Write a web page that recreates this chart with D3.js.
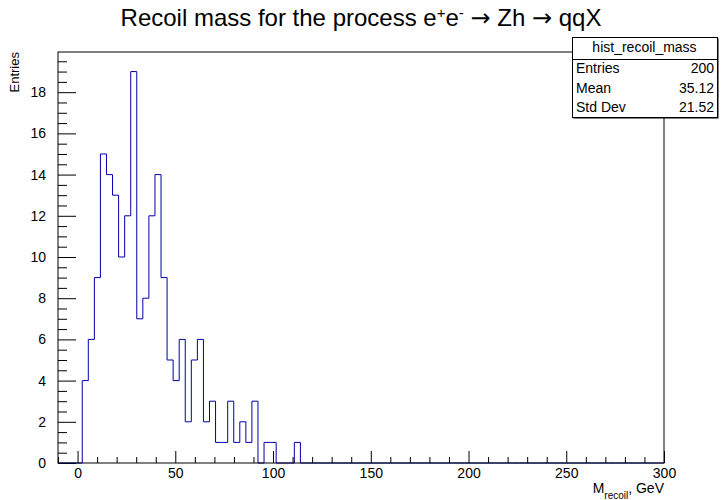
<!DOCTYPE html>
<html>
<head>
<meta charset="utf-8">
<script src="https://cdn.jsdelivr.net/npm/d3@7"></script>
<style>
  body { margin: 0; background: #fff; }
  svg { display: block; font-family: "Liberation Sans", Arial, sans-serif; }
</style>
</head>
<body>
<div id="chart"></div>
<script>
// histogram binning (100 bins from -10 to 300)
const xRange = [-10, 300]
const nBins = 100
// bin contents, bins 0..39 (all other bins are empty)
const binCounts = [0, 0, 0, 0, 4, 6, 9, 15, 14, 13, 10, 12, 19, 7, 8, 12, 14, 9, 5, 4,
                   6, 2, 5, 6, 2, 3, 1, 1, 3, 1, 2, 1, 3, 0, 1, 1, 0, 0, 0, 1]
// axis ticks
const xMajorTicks = [0, 50, 100, 150, 200, 250, 300]
const yMajorTicks = [0, 2, 4, 6, 8, 10, 12, 14, 16, 18]
// stat box
const statTitle = "hist_recoil_mass"
const statLabels = ["Entries", "Mean", "Std Dev"]
const statValues = ["200", "35.12", "21.52"]

const width = 724, height = 500
const frame = { left: 58, right: 664, top: 52, bottom: 463 }

const svg = d3.select("#chart").append("svg")
  .attr("width", width).attr("height", height)

const x = d3.scaleLinear().domain(xRange).range([frame.left, frame.right])
// ROOT puts the maximum at 1.05 * max bin
const yMax = d3.max(binCounts) * 1.05
const y = d3.scaleLinear().domain([0, yMax]).range([frame.bottom, frame.top])

// minor ticks
const xMinorTicks = d3.range(-10, 301, 10).filter(v => v % 50 !== 0)
const yMinorTicks = d3.range(0, yMax, 0.5).filter(v => v % 2 !== 0)

// x axis
const gx = svg.append("g").attr("transform", `translate(0,${frame.bottom})`)
gx.call(d3.axisBottom(x).tickValues(xMajorTicks).tickSizeInner(-12).tickSizeOuter(0).tickPadding(5))
gx.append("g").call(d3.axisBottom(x).tickValues(xMinorTicks).tickSizeInner(-6).tickSizeOuter(0).tickFormat(""))
gx.selectAll(".domain").remove()
gx.selectAll("line").attr("stroke", "#000")
gx.selectAll("text").attr("fill", "#000").style("font-size", "14px")

// y axis
const gy = svg.append("g").attr("transform", `translate(${frame.left},0)`)
gy.call(d3.axisLeft(y).tickValues(yMajorTicks).tickSizeInner(-18).tickSizeOuter(0).tickPadding(12))
gy.append("g").call(d3.axisLeft(y).tickValues(yMinorTicks).tickSizeInner(-9).tickSizeOuter(0).tickFormat(""))
gy.selectAll(".domain").remove()
gy.selectAll("line").attr("stroke", "#000")
gy.selectAll("text").attr("fill", "#000").style("font-size", "14px")

// histogram outline
const binWidth = (xRange[1] - xRange[0]) / nBins
const counts = d3.range(nBins).map(i => binCounts[i] || 0)
let pts = [[x(xRange[0]), y(0)]]
counts.forEach((c, i) => {
  const lo = xRange[0] + i * binWidth
  pts.push([x(lo), y(c)])
  pts.push([x(lo + binWidth), y(c)])
})
pts.push([x(xRange[1]), y(0)])
svg.append("path")
  .attr("d", d3.line()(pts))
  .attr("fill", "none")
  .attr("stroke", "#0000aa")
  .attr("stroke-width", 1)

// frame
svg.append("rect")
  .attr("x", frame.left).attr("y", frame.top)
  .attr("width", frame.right - frame.left).attr("height", frame.bottom - frame.top)
  .attr("fill", "none").attr("stroke", "#000").attr("stroke-width", 1)

// title
const title = svg.append("text")
  .attr("x", 361).attr("y", 26)
  .attr("text-anchor", "middle")
  .style("font-size", "24px")
title.append("tspan").text("Recoil mass for the process e")
title.append("tspan").attr("baseline-shift", "super").style("font-size", "15px").text("+")
title.append("tspan").text("e")
title.append("tspan").attr("baseline-shift", "super").style("font-size", "15px").text("-")
title.append("tspan").text(" ")
title.append("tspan").style("font-family", "DejaVu Sans").text("\u2192")
title.append("tspan").text(" Zh ")
title.append("tspan").style("font-family", "DejaVu Sans").text("\u2192")
title.append("tspan").text(" qqX")

// axis titles
const xt = svg.append("text")
  .attr("x", frame.right).attr("y", 493)
  .attr("text-anchor", "end")
  .style("font-size", "14px")
xt.append("tspan").text("M")
xt.append("tspan").attr("baseline-shift", "sub").style("font-size", "10px").text("recoil")
xt.append("tspan").attr("baseline-shift", "0").text(", GeV")

svg.append("text")
  .attr("transform", `translate(19,${frame.top}) rotate(-90)`)
  .attr("text-anchor", "end")
  .style("font-size", "13px")
  .text("Entries")

// stat box
const box = { x: 572, y: 37, w: 145, h: 80 }
svg.append("rect")
  .attr("x", box.x + 1.5).attr("y", box.y + 1.5)
  .attr("width", box.w).attr("height", box.h)
  .attr("fill", "#000")
svg.append("rect")
  .attr("x", box.x + 0.5).attr("y", box.y + 0.5)
  .attr("width", box.w).attr("height", box.h)
  .attr("fill", "#fff").attr("stroke", "#000")
svg.append("line")
  .attr("x1", box.x).attr("x2", box.x + box.w)
  .attr("y1", 59.5).attr("y2", 59.5)
  .attr("stroke", "#000")
svg.append("text")
  .attr("x", box.x + box.w / 2).attr("y", 52)
  .attr("text-anchor", "middle")
  .style("font-size", "14px")
  .text(statTitle)
statLabels.forEach((lab, i) => {
  const by = 73 + i * 19.5
  svg.append("text").attr("x", box.x + 4).attr("y", by).style("font-size", "14px").text(lab)
  svg.append("text").attr("x", box.x + box.w - 3).attr("y", by)
    .attr("text-anchor", "end").style("font-size", "14px").text(statValues[i])
})
</script>
</body>
</html>
